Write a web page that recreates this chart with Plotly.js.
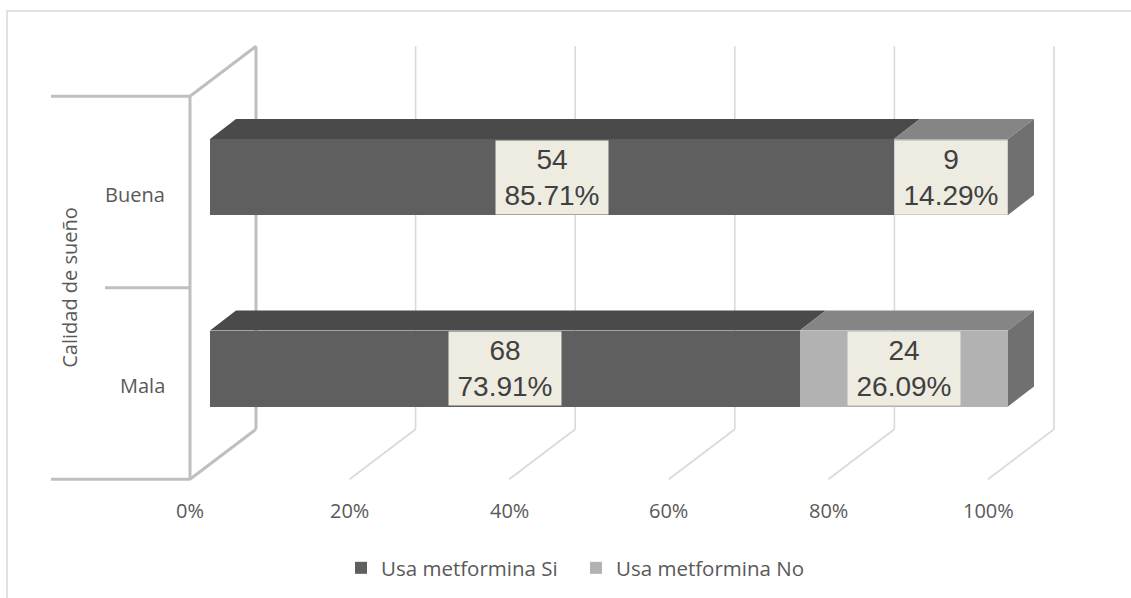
<!DOCTYPE html>
<html>
<head>
<meta charset="utf-8">
<script src="https://cdn.plot.ly/plotly-3.0.1.min.js"></script>
<style>html,body{margin:0;padding:0;background:#fff;}#chart{width:1131px;height:598px;}</style>
</head>
<body>
<div id="chart"></div>
<script>
// ---- data ----
const categories = ['Mala', 'Buena'];          // bottom to top
const seriesNames = ['Usa metformina Si', 'Usa metformina No'];
const countSi = [68, 54];
const countNo = [24, 9];
const pctSi = [73.91, 85.71];
const pctNo = [26.09, 14.29];
const tickVals = [0, 20, 40, 60, 80, 100];
const tickText = ['0%', '20%', '40%', '60%', '80%', '100%'];

// ---- layout geometry (pixels) ----
const W = 1131, H = 598;
const barX0px = 210, pxPerPct = 7.98;      // bar front plane: 0% -> 210px
const topCatPx = 177, pxPerCat = 191.5;    // category 1 centre at 177px
const ux = 1 / pxPerPct, uy = 1 / pxPerCat;
const frontDX = -20 * ux, frontDY = -15 * uy;   // front plane offset
const backDX = 46 * ux, backDY = 35 * uy;       // back wall offset
const depthDX = 26 * ux, depthDY = 20 * uy;     // bar depth
const barW = 76 * uy;
const nCat = categories.length;
const yLo = -0.5, yHi = nCat - 0.5;
const xRange = [-barX0px * ux, (W - barX0px) * ux];
const yRange = [(nCat - 1) - (H - topCatPx) * uy, (nCat - 1) + topCatPx * uy];
const yIdx = categories.map((c, i) => i);

const wallColor = '#bfbfbf', gridColor = '#d9d9d9';
const colSi = '#5f5f5f', colNo = '#b2b2b2';
const topSi = '#4a4a4a', topNo = '#858585', sideCol = '#707070';
const txtFont = 'Open Sans, Noto Sans, sans-serif';

const shapes = [];
// outer chart border
shapes.push({type: 'rect', xref: 'paper', yref: 'paper', x0: 7 / W, x1: 1.02, y0: -0.02, y1: 1 - 11 / H,
  line: {color: gridColor, width: 1.5}, layer: 'below'});
// back wall gridlines and floor lines
tickVals.forEach(t => {
  const isWall = t === tickVals[0];
  const line = {color: isWall ? wallColor : gridColor, width: isWall ? 3 : 1.6};
  shapes.push({type: 'line', xref: 'x', yref: 'y', x0: t + backDX, x1: t + backDX,
    y0: yLo + backDY, y1: yHi + backDY, line: line, layer: 'below'});
  shapes.push({type: 'line', xref: 'x', yref: 'y', x0: t + frontDX, x1: t + backDX,
    y0: yLo + frontDY, y1: yLo + backDY, line: line, layer: 'below'});
});
// left wall
const x0f = tickVals[0] + frontDX, x0b = tickVals[0] + backDX;
shapes.push({type: 'line', xref: 'x', yref: 'y', x0: x0f, x1: x0f, y0: yLo + frontDY, y1: yHi + frontDY,
  line: {color: wallColor, width: 3}, layer: 'below'});
shapes.push({type: 'line', xref: 'x', yref: 'y', x0: x0f, x1: x0b, y0: yHi + frontDY, y1: yHi + backDY,
  line: {color: wallColor, width: 3}, layer: 'below'});
// category tick lines
for (let k = 0; k <= nCat; k++) {
  const v = yLo + k;
  const len = (k === 0 || k === nCat) ? 139 : 85;
  shapes.push({type: 'line', xref: 'x', yref: 'y', x0: x0f - len * ux, x1: x0f, y0: v + frontDY, y1: v + frontDY,
    line: {color: wallColor, width: 3}, layer: 'below'});
}
// 3D faces of bars
function poly(pts) {
  return 'M' + pts.map(p => p[0] + ',' + p[1]).join('L') + 'Z';
}
yIdx.forEach(i => {
  const yt = i + barW / 2, yb = i - barW / 2;
  const segs = [[0, pctSi[i], topSi], [pctSi[i], pctSi[i] + pctNo[i], topNo]];
  segs.forEach(s => {
    shapes.push({type: 'path', xref: 'x', yref: 'y', layer: 'below', fillcolor: s[2], line: {width: 0},
      path: poly([[s[0], yt], [s[1], yt], [s[1] + depthDX, yt + depthDY], [s[0] + depthDX, yt + depthDY]])});
  });
  const xe = pctSi[i] + pctNo[i];
  shapes.push({type: 'path', xref: 'x', yref: 'y', layer: 'below', fillcolor: sideCol, line: {width: 0},
    path: poly([[xe, yb], [xe, yt], [xe + depthDX, yt + depthDY], [xe + depthDX, yb + depthDY]])});
});

const annotations = [];
// data labels
yIdx.forEach(i => {
  const lab = [[pctSi[i] / 2, countSi[i], pctSi[i]], [pctSi[i] + pctNo[i] / 2, countNo[i], pctNo[i]]];
  lab.forEach(l => {
    annotations.push({xref: 'x', yref: 'y', x: l[0], y: i, showarrow: false,
      text: l[1] + '<br>' + l[2].toFixed(2) + '%', align: 'center',
      font: {family: 'Liberation Sans, Arial, sans-serif', size: 28, color: '#404040'},
      bgcolor: '#eeece1', borderpad: 0, width: 112, height: 73, xanchor: 'center', yanchor: 'middle'});
  });
  annotations.push({xref: 'x', yref: 'y', x: 0, y: i, xshift: -43, yshift: -17, showarrow: false,
    text: categories[i], xanchor: 'right', yanchor: 'middle',
    font: {family: txtFont, size: 20, color: '#595959'}});
});
// x tick labels
tickVals.forEach((t, k) => {
  annotations.push({xref: 'x', yref: 'y', x: t, y: yLo, xshift: -20, yshift: -46, showarrow: false,
    text: tickText[k], xanchor: 'center', yanchor: 'middle',
    font: {family: txtFont, size: 20, color: '#595959'}});
});
// axis title
annotations.push({xref: 'paper', yref: 'y', x: 70 / W, y: (yLo + yHi) / 2, yshift: -15, showarrow: false,
  text: 'Calidad de sueño', textangle: -90, xanchor: 'center', yanchor: 'middle',
  font: {family: txtFont, size: 20, color: '#595959'}});

const traces = [
  {type: 'bar', orientation: 'h', name: seriesNames[0], y: yIdx, x: pctSi, width: barW,
   marker: {color: colSi, line: {width: 0}}, hoverinfo: 'skip'},
  {type: 'bar', orientation: 'h', name: seriesNames[1], y: yIdx, x: pctNo, width: barW,
   marker: {color: colNo, line: {width: 0}}, hoverinfo: 'skip'}
];

const layout = {
  width: W, height: H,
  margin: {l: 0, r: 0, t: 0, b: 0},
  paper_bgcolor: '#ffffff', plot_bgcolor: 'rgba(0,0,0,0)',
  barmode: 'stack',
  xaxis: {range: xRange, showgrid: false, zeroline: false, showticklabels: false, showline: false, ticks: '', fixedrange: true},
  yaxis: {range: yRange, showgrid: false, zeroline: false, showticklabels: false, showline: false, ticks: '', fixedrange: true},
  showlegend: true,
  legend: {orientation: 'h', x: 341 / W, xanchor: 'left', y: 1 - 568 / H, yanchor: 'middle',
    entrywidth: 190, entrywidthmode: 'pixels',
    traceorder: 'normal', font: {family: txtFont, size: 20.5, color: '#595959'}, bgcolor: 'rgba(0,0,0,0)'},
  shapes: shapes,
  annotations: annotations
};

Plotly.newPlot('chart', traces, layout, {displayModeBar: false, staticPlot: true});
</script>
</body>
</html>
